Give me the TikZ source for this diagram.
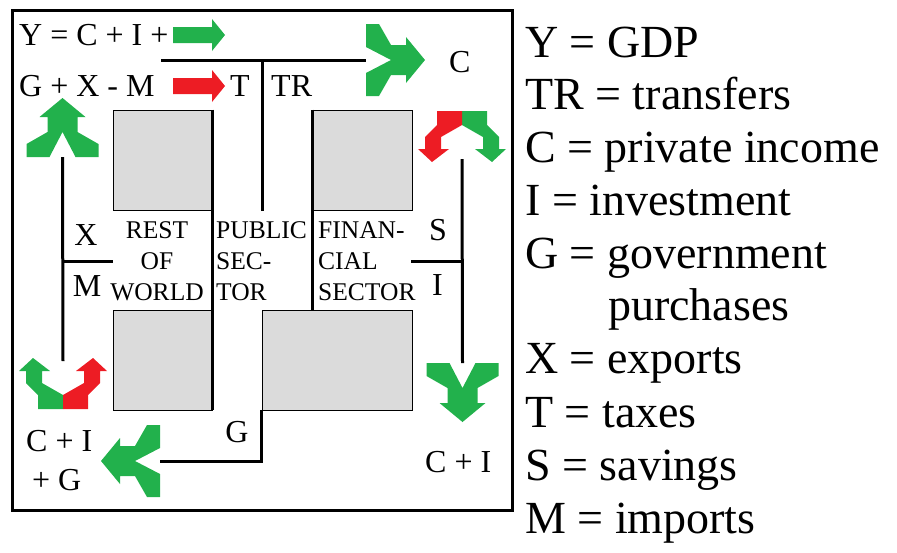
\documentclass[tikz,border=0pt]{standalone}
\usepackage{fontspec}
\setmainfont{Liberation Serif}
\usetikzlibrary{positioning}
\definecolor{flowgreen}{HTML}{22B14C}
\definecolor{flowred}{HTML}{ED1C24}
\definecolor{boxgray}{HTML}{DBDBDB}

\begin{document}
\begin{tikzpicture}[x=1pt,y=-1pt,
 sectorbox/.style={draw=black,line width=0.9pt,fill=boxgray,inner sep=0pt},
 wire/.style={line width=3pt},
 lbl/.style={inner sep=0pt,anchor=base west,font=\fontsize{32}{38}\selectfont},
 blk/.style={inner sep=0pt,anchor=north,font=\fontsize{25.5}{31}\selectfont},
 legend/.style={inner sep=0pt,anchor=base west,font=\fontsize{46}{53}\selectfont},
 fork/.pic={\fill[flowgreen] (0,0) -- (-19,-23) -- (-19,-15) -- (-34,-15) -- (-46,-36) -- (-59,-36)
   -- (-59,-13) -- (-34,0) -- (-59,13) -- (-59,36) -- (-46,36) -- (-34,15) -- (-19,15) -- (-19,23) -- cycle;
   \coordinate (-back) at (-59,0);},
 split/.pic={\fill[flowgreen] (0,0) -- (0,-25) -- (14,-25) -- (26,-37) -- (38,-37) -- (38,-44) -- (51,-30)
   -- (38,-13) -- (38,-21) -- (26,-21) -- (14,0) -- cycle;
   \fill[flowred] (0,0) -- (0,25) -- (14,25) -- (26,37) -- (38,37) -- (38,44) -- (51,30)
   -- (38,13) -- (38,21) -- (26,21) -- (14,0) -- cycle;
   \coordinate (-top) at (48,0);},
 push/.pic={\fill[#1] (0,0) -- (-13,-16) -- (-13,-8) -- (-52,-8) -- (-52,8) -- (-13,8) -- (-13,16) -- cycle;}]
\useasboundingbox (0,0) rectangle (897,552);
\node[draw,line width=3pt,minimum width=500pt,minimum height=500pt,inner sep=0pt] (frame) at (262,260) {};

% sectors
\node[sectorbox,minimum width=99pt,minimum height=100pt] (rowtop) at (162.5,160) {};
\node[sectorbox,minimum width=99pt,minimum height=100pt] (rowbot) at (162.5,360) {};
\node[sectorbox,minimum width=99pt,minimum height=100pt] (fintop) at (362.5,160) {};
\node[sectorbox,minimum width=150pt,minimum height=100pt] (finbot) at (337,360) {};
\node[blk,align=center] (row) at (157,221) {REST\\OF\\WORLD};
\node[blk,align=left,anchor=north west] (pub) at (216,221) {PUBLIC\\SEC-\\TOR};
\node[blk,align=left,anchor=north west] (fin) at (318,221) {FINAN-\\CIAL\\SECTOR};
\draw[wire] (rowtop.north east) -- (rowbot.south east);
\draw[wire] (fintop.north west) -- (fintop.north west |- finbot.north);

% arrows
\pic (fC) at (425,60) {fork};
\pic[rotate=90] (fUp) at (62.5,98) {fork};
\pic[rotate=180] (fG) at (101,461) {fork};
\pic[rotate=-90] (fCI) at (462.5,422) {fork};
\pic[rotate=90] (sBL) at (63,409) {split};
\pic[rotate=-90] (sTR) at (462,111) {split};
\pic (pY) at (225,35) {push=flowgreen};
\pic (pT) at (225,86) {push=flowred};

% flows
\coordinate (ystart) at (161,60);
\coordinate (trfoot) at (262,211);
\coordinate (xmjoin) at (62.5,261);
\coordinate (rowgap) at (113,261);
\coordinate (sijoin) at (462,261);
\coordinate (fingap) at (411,261);
\draw[wire] (ystart) -- (fC-back);
\draw[wire] (trfoot) -- (trfoot |- ystart);
\draw[wire] (fUp-back) -- (sBL-top);
\draw[wire] (xmjoin) -- (rowgap);
\draw[wire] (sTR-top) -- (fCI-back);
\draw[wire] (fingap) -- (sijoin);
\draw[wire] (finbot.south west) |- (fG-back);

% labels
\node[lbl] (ysum) at (19,45) {Y = C + I +};
\node[lbl] (gxm) at (19,96) {G + X - M};
\node[lbl] (tax) at (230,96) {T};
\node[lbl] (tr) at (271,96) {TR};
\node[lbl] (cons) at (449,72) {C};
\node[lbl,anchor=base] (exp) at (86,245) {X};
\node[lbl,anchor=base] (imp) at (87,296) {M};
\node[lbl,anchor=base] (sav) at (438,240) {S};
\node[lbl,anchor=base] (inv) at (437.5,295) {I};
\node[lbl,anchor=base] (gov) at (237,442) {G};
\node[lbl] (cig) at (26,451) {C + I};
\node[lbl] (cigb) at (32,490) {+ G};
\node[lbl] (ci) at (425,472) {C + I};

% legend
\foreach \xx/\yy/\txt [count=\i] in {525/57/Y = GDP, 525/109/TR = transfers, 525/162/C = private income,
  525/215/I = investment, 525/268/G = government, 608/320/purchases, 525/373/X = exports,
  525/427/T = taxes, 525/480/S = savings, 525/533/M = imports}
  \node[legend] (leg\i) at (\xx,\yy) {\txt};
\end{tikzpicture}
\end{document}
